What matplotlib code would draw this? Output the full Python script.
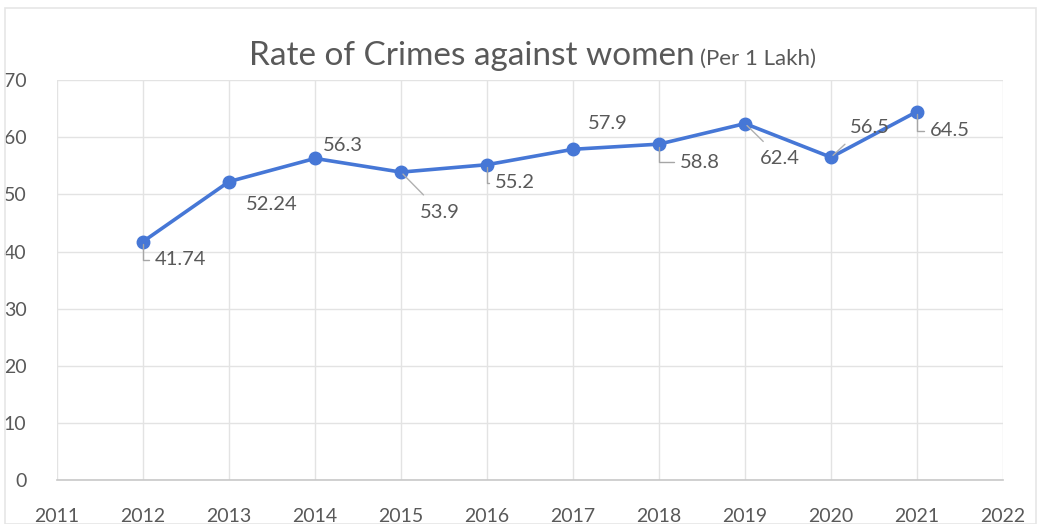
import matplotlib
matplotlib.use('Agg')
import matplotlib.pyplot as plt
from matplotlib.patches import Rectangle

years = [2012, 2013, 2014, 2015, 2016, 2017, 2018, 2019, 2020, 2021]
rates = [41.74, 52.24, 56.3, 53.9, 55.2, 57.9, 58.8, 62.4, 56.5, 64.5]
labels = ['41.74', '52.24', '56.3', '53.9', '55.2', '57.9', '58.8', '62.4', '56.5', '64.5']

# label offsets (pixels) and leader style: None, 'elbow' or 'line'
offsets = [(37, -18), (43, -23), (28, 13), (39, -40), (28, -18),
           (35, 26), (41, -18), (35, -35), (39, 30), (33, -19)]
leaders = ['elbow', None, None, 'line', 'elbow', None, 'elbow', 'line', 'line', 'elbow']

plt.rcParams['font.family'] = ['Lato', 'DejaVu Sans']
text_col = '#595959'
grid_col = '#e3e3e3'
line_col = '#4677d6'

fig = plt.figure(figsize=(10.41, 5.24), dpi=100, facecolor='white')
fig.patches.append(Rectangle((0.005, 0.0), 0.99, 0.985, transform=fig.transFigure,
                             fill=False, edgecolor='#e6e6e6', linewidth=1.2))
ax = fig.add_axes([0.0548, 0.084, 0.9087, 0.763])

ax.plot(years, rates, color=line_col, linewidth=2.6, marker='o', markersize=9,
        markerfacecolor=line_col, markeredgecolor=line_col, zorder=3)

for x, y, lab, off, ld in zip(years, rates, labels, offsets, leaders):
    arrow = None
    if ld == 'elbow':
        arrow = dict(arrowstyle='-', color='#a6a6a6', lw=1.0, shrinkA=2, shrinkB=2,
                     relpos=(0, 0.5), connectionstyle='angle,angleA=0,angleB=90,rad=0')
    elif ld == 'line':
        rp = (0.3, 1.0) if off[1] < 0 else (0.1, 0.0)
        arrow = dict(arrowstyle='-', color='#b0b0b0', lw=1.0, shrinkA=6, shrinkB=2,
                     relpos=rp)
    ax.annotate(lab, (x, y), xytext=off, textcoords='offset pixels',
                ha='center', va='center', fontsize=14.5, color=text_col,
                arrowprops=arrow, zorder=4)

ax.set_xlim(2011, 2022)
ax.set_ylim(0, 70)
ax.set_xticks(range(2011, 2023))
ax.set_yticks(range(0, 71, 10))
ax.grid(True, color=grid_col, linewidth=1.0)
ax.set_axisbelow(True)
for s in ['top', 'right', 'left']:
    ax.spines[s].set_visible(False)
ax.spines['bottom'].set_color('#c8c8c8')
ax.spines['bottom'].set_linewidth(1.2)
ax.tick_params(axis='both', length=0, labelsize=14, labelcolor=text_col)
ax.tick_params(axis='x', pad=20)
ax.tick_params(axis='y', pad=22)

fig.text(0.667, 0.876, 'Rate of Crimes against women', ha='right', va='baseline',
         fontsize=24, color=text_col)
fig.text(0.672, 0.876, '(Per 1 Lakh)', ha='left', va='baseline',
         fontsize=16, color=text_col)

fig.savefig('out.png', dpi=100, facecolor='white')
